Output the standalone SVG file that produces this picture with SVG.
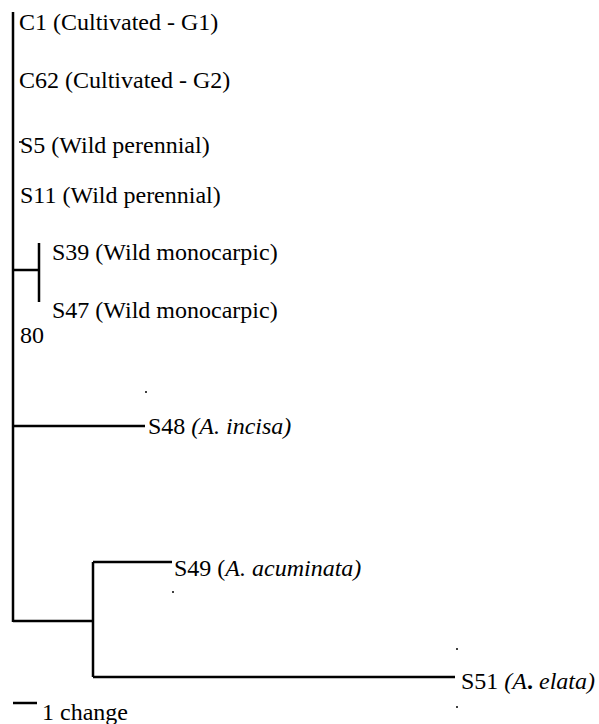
<svg xmlns="http://www.w3.org/2000/svg" width="599" height="724" viewBox="0 0 599 724">
<style>
.t{font-family:"Liberation Serif","Times New Roman",serif;font-size:24px;fill:#000}
.i{font-style:italic}
.b{stroke:#000;stroke-width:2.5;fill:none}
.d{fill:#000}
</style>
<rect width="599" height="724" fill="#fff"/>
<g id="connectors">
<path class="b" d="M13,12 V622"/>
<path class="b" d="M13,270 H39 M39,243 V302"/>
<path class="b" d="M13,426 H145"/>
<path class="b" d="M13,621 H93 M93,562 V677 M93,562 H172 M93,677 H455"/>
<path class="b" d="M13,703 H37"/>
<path d="M19,142 H23" stroke="#000" stroke-width="1.5"/>
</g>
<g id="C1"><text class="t" x="19" y="30">C1 (Cultivated - G1)</text></g>
<g id="C62"><text class="t" x="19" y="88">C62 (Cultivated - G2)</text></g>
<g id="S5"><text class="t" x="20" y="153">S5 (Wild perennial)</text></g>
<g id="S11"><text class="t" x="20" y="203">S11 (Wild perennial)</text></g>
<g id="S39"><text class="t" x="52" y="260">S39 (Wild monocarpic)</text></g>
<g id="S47"><text class="t" x="52" y="318">S47 (Wild monocarpic)</text></g>
<g id="bootstrap"><text class="t" x="20" y="343">80</text></g>
<g id="S48"><text class="t" x="148" y="434">S48 <tspan class="i">(A. incisa)</tspan></text></g>
<g id="S49"><text class="t" x="174" y="576">S49 (<tspan class="i">A. acuminata)</tspan></text></g>
<g id="S51"><text class="t" x="461" y="689">S51 <tspan class="i">(A<tspan font-style="normal" font-weight="bold">.</tspan> elata)</tspan></text></g>
<g id="scale"><text class="t" x="42" y="720">1 change</text></g>
<g id="dots">
<circle class="d" cx="146" cy="392" r="1"/>
<circle class="d" cx="173" cy="592" r="1"/>
<circle class="d" cx="457" cy="649" r="1"/>
<circle class="d" cx="457" cy="707" r="1"/>
</g>
</svg>
